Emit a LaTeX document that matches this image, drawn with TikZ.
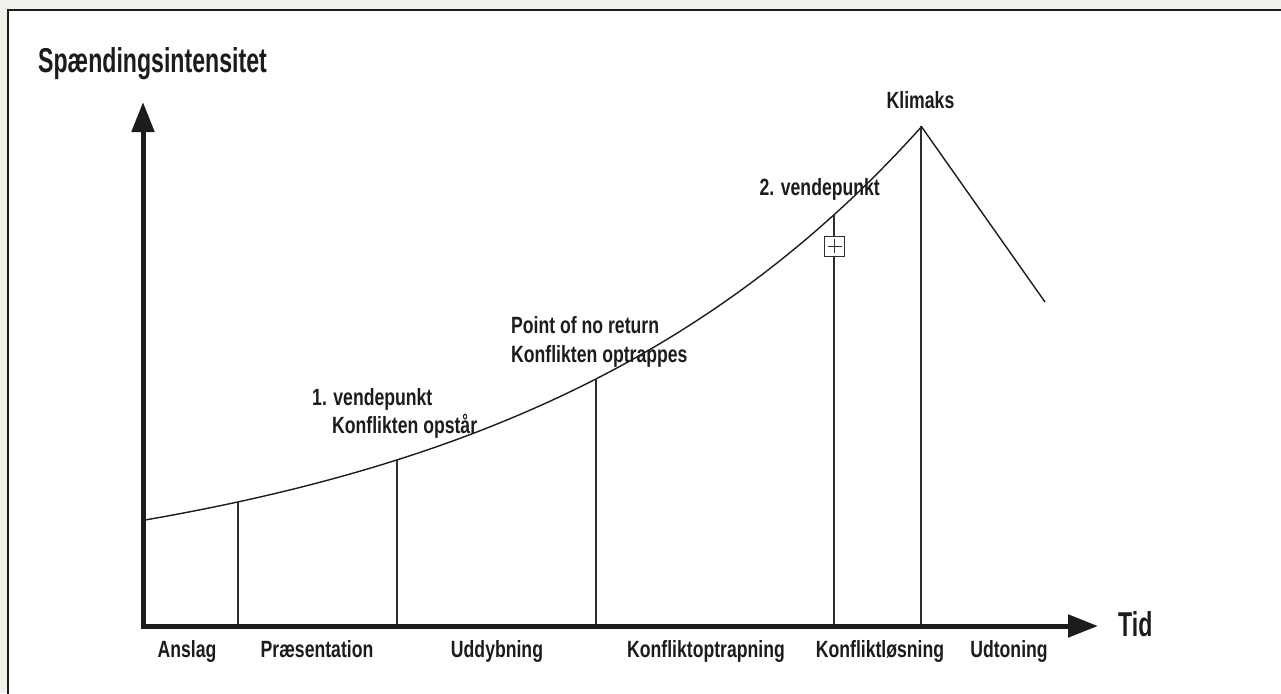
\documentclass[tikz,border=0pt]{standalone}
\usepackage{fontspec}
\newfontfamily\bigfont{Liberation Sans}[FakeStretch=0.67]
\newfontfamily\labfont{Liberation Sans}[FakeStretch=0.75]
\usetikzlibrary{arrows.meta}
\definecolor{bgbeige}{HTML}{F1F0EB}
\definecolor{ink}{HTML}{1C1C1C}
\definecolor{thinink}{HTML}{2E2E2E}
\begin{document}
\begin{tikzpicture}[x=1pt,y=-1pt,
  lab/.style={font=\labfont\bfseries\fontsize{23.5}{26}\selectfont, text=ink, inner sep=0pt},
  biglab/.style={font=\bigfont\bfseries\fontsize{34.5}{38}\selectfont, text=ink, inner sep=0pt},
  axisline/.style={line width=5pt, draw=ink, line cap=rect, -{Triangle[length=30pt,width=22pt]}},
  thinline/.style={line width=1.3pt, draw=thinink},
  curveline/.style={line width=1.4pt, draw=ink},
  plusbox/.style={draw=thinink, fill=white, line width=1pt, minimum size=20pt, inner sep=0pt,
    path picture={
      \draw[line width=0.9pt, draw=thinink] ([xshift=-7pt]path picture bounding box.center) -- ([xshift=7pt]path picture bounding box.center);
      \draw[line width=0.9pt, draw=thinink] ([yshift=-7pt]path picture bounding box.center) -- ([yshift=7pt]path picture bounding box.center);
    }}]
\useasboundingbox (0,0) rectangle (1281,693);
\clip (0,0) rectangle (1281,693);
% background and panel
\fill[bgbeige] (0,0) rectangle (1281,693);
\draw[line width=1.6pt, draw=ink, fill=white] (8,10) rectangle (1300,720);

% curve
\draw[curveline] plot[domain=145:921, samples=150] (\x, {626-33.5-72.5*exp(0.0024*(\x-145))});

% coordinates
\coordinate (O) at (143,626);
\coordinate (ytip) at (143,102);
\coordinate (xtip) at (1098,626);
\coordinate (c1) at (238, {626-33.5-72.5*exp(0.0024*(238-145))});
\coordinate (c2) at (397, {626-33.5-72.5*exp(0.0024*(397-145))});
\coordinate (c3) at (596, {626-33.5-72.5*exp(0.0024*(596-145))});
\coordinate (c4) at (834, {626-33.5-72.5*exp(0.0024*(834-145))});
\coordinate (peak) at (921,126);
\coordinate (fall) at (1045,302);
\coordinate (b1) at (238,626);
\coordinate (b2) at (397,626);
\coordinate (b3) at (596,626);
\coordinate (b4) at (834,626);
\coordinate (b5) at (921,626);

% vertical lines
\draw[thinline] (c1) -- (b1);
\draw[thinline] (c2) -- (b2);
\draw[thinline] (c3) -- (b3);
\draw[thinline] (c4) -- (b4);
\draw[thinline] (peak) -- (b5);
\draw[curveline] (peak) -- (fall);

% plus box
\node[plusbox] (box) at (834.5,246) {};

% axes
\draw[axisline] (O) -- (ytip);
\draw[axisline] (O) -- (xtip);

% labels
\node[biglab, anchor=base west] (ylabel) at (38,72) {Spændingsintensitet};
\node[biglab, anchor=base west] (xlabel) at (1118,636) {Tid};
\node[lab, anchor=base] (klimaks) at (920.5,108) {Klimaks};
\node[lab, anchor=base east] (vp2) at (880,195) {2. vendepunkt};
\node[lab, anchor=base west] (pnr1) at (511,333) {Point of no return};
\node[lab, anchor=base west] (pnr2) at (511,362) {Konflikten optrappes};
\node[lab, anchor=base west] (vp1a) at (312,405) {1. vendepunkt};
\node[lab, anchor=base west] (vp1b) at (332,433) {Konflikten opstår};

\node[lab, anchor=base] (l1) at (187,657) {Anslag};
\node[lab, anchor=base] (l2) at (317,657) {Præsentation};
\node[lab, anchor=base] (l3) at (497,657) {Uddybning};
\node[lab, anchor=base] (l4) at (706,657) {Konfliktoptrapning};
\node[lab, anchor=base] (l5) at (880,657) {Konfliktløsning};
\node[lab, anchor=base] (l6) at (1009,657) {Udtoning};
\end{tikzpicture}
\end{document}
